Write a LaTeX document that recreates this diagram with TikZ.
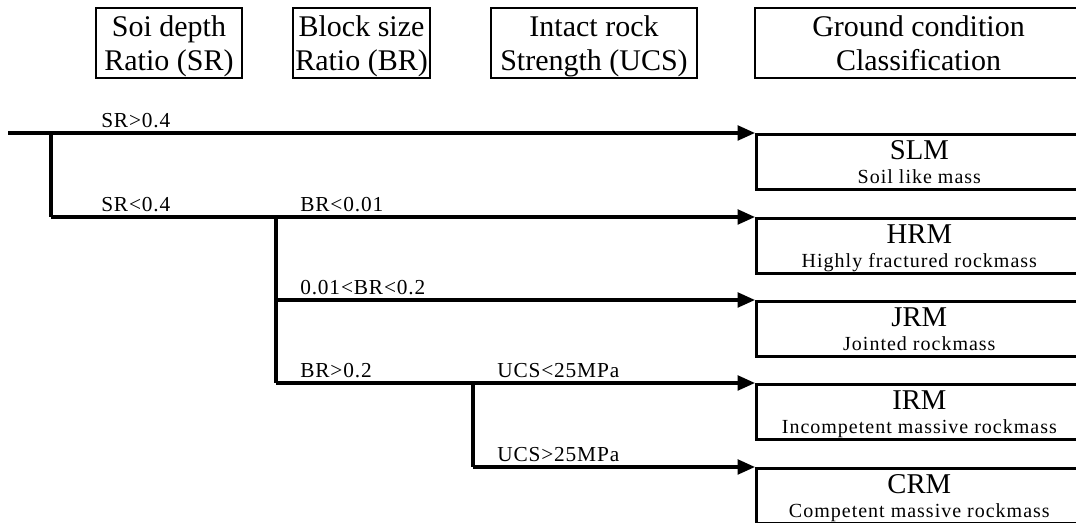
\documentclass[tikz,border=0pt]{standalone}
\usepackage{fontspec}
\setmainfont{Liberation Serif}
\newfontfamily\lblfam[LetterSpace=4]{Liberation Serif}
\newfontfamily\subfam[LetterSpace=5]{Liberation Serif}
\usetikzlibrary{arrows.meta,calc}

\begin{document}
\begin{tikzpicture}[
  x=0.75pt,y=-0.75pt,
  head/.style={draw=black,line width=1.1pt,minimum height=52.5pt,inner sep=0pt,text depth=0pt,
    align=center,font=\fontsize{22.5}{25}\selectfont},
  result/.style={draw=black,line width=2pt,minimum width=244.5pt,minimum height=41.25pt,
    inner sep=0pt,anchor=north west},
  abbr/.style={anchor=base,inner sep=0pt,font=\fontsize{21.5}{23}\selectfont},
  desc/.style={anchor=base,inner sep=0pt,font=\subfam\fontsize{15}{16}\selectfont},
  cond/.style={anchor=base west,inner sep=0pt,font=\lblfam\fontsize{16}{17}\selectfont},
  trunk/.style={line width=2.3pt},
  flow/.style={-{Triangle[length=13pt,width=11pt]},line width=2.3pt}
]
\useasboundingbox (0,0) rectangle (1076,523);
\clip (0,0) rectangle (1076,523);
\node[head,minimum width=109.5pt] (srhead) at (169,43) {Soi depth\\Ratio (SR)};
\node[head,minimum width=102.75pt] (brhead) at (361.5,43) {Block size\\Ratio (BR)};
\node[head,minimum width=154.5pt] (ucshead) at (594,43) {Intact rock\\Strength (UCS)};
\node[head,minimum width=245.25pt] (gchead) at (918.5,43) {Ground condition\\Classification};
\node[result] (slm) at (755,133) {};
\node[result] (hrm) at (755,217) {};
\node[result] (jrm) at (755,300) {};
\node[result] (irm) at (755,383) {};
\node[result] (crm) at (755,467) {};
\foreach \res/\abb/\txt in {slm/SLM/Soil like mass,hrm/HRM/Highly fractured rockmass,
    jrm/JRM/Jointed rockmass,irm/IRM/Incompetent massive rockmass,
    crm/CRM/Competent massive rockmass}{
  \node[abbr] (\res-abbr) at ([yshift=-20.25pt]\res.north) {\abb};
  \node[desc] (\res-desc) at ([yshift=-38.25pt]\res.north) {\txt};
}
\coordinate (start) at (8,133);
\coordinate (srsplit) at (51,133);
\coordinate (srlow) at (51,217);
\coordinate (brsplit) at (276,217);
\coordinate (brlow) at (276,383);
\coordinate (ucssplit) at (473,383);
\coordinate (ucslow) at (473,467);
\draw[flow] (start) -- (slm.north west);
\draw[trunk] (srsplit) -- (srlow);
\draw[flow] (srlow) -- (hrm.north west);
\draw[trunk] (brsplit) -- (brlow);
\draw[flow] (jrm.north west -| brsplit) -- (jrm.north west);
\draw[flow] (brlow) -- (irm.north west);
\draw[trunk] (ucssplit) -- (ucslow);
\draw[flow] (ucslow) -- (crm.north west);
\node[cond] (sr1) at (101,128) {SR>0.4};
\node[cond] (sr2) at (101,212) {SR<0.4};
\node[cond] (br1) at (300,212) {BR<0.01};
\node[cond] (br2) at (300,295) {0.01<BR<0.2};
\node[cond] (br3) at (300,378) {BR>0.2};
\node[cond] (ucs1) at (497,378) {UCS<25MPa};
\node[cond] (ucs2) at (497,462) {UCS>25MPa};
\end{tikzpicture}
\end{document}
